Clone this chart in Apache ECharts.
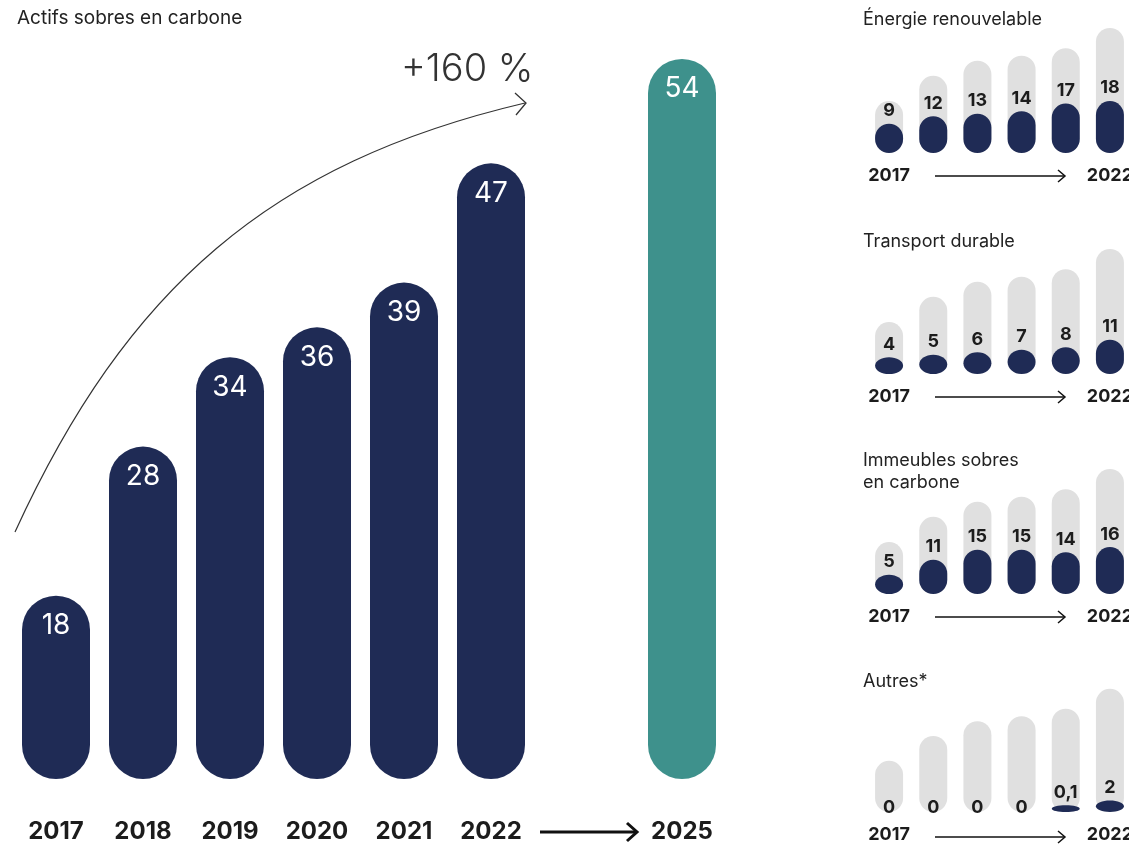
<!DOCTYPE html>
<html><head><meta charset="utf-8">
<script src="https://cdn.jsdelivr.net/npm/echarts@6/dist/echarts.min.js"></script>
<style>html,body{margin:0;padding:0;background:#fff;overflow:hidden}#c{width:1140px;height:844px}</style>
</head><body><div id="c"></div>
<script>
// ---- data ----
const years = ['2017','2018','2019','2020','2021','2022'];
const targetYear = ['2025'];
const totals = [18, 28, 34, 36, 39, 47];
const target = [54];
const energie = [9, 12, 13, 14, 17, 18];
const transport = [4, 5, 6, 7, 8, 11];
const immeubles = [5, 11, 15, 15, 14, 16];
const autres = [0, 0, 0, 0, 0.1, 2];
const panelTitles = ['Énergie renouvelable', 'Transport durable', 'Immeubles sobres\nen carbone', 'Autres*'];
const mainTitle = 'Actifs sobres en carbone';
const growthLabel = '+160 %';

// ---- styling ----
const NAVY = '#1f2b55', TEAL = '#3e918c', GREY = '#e0e0e0', INK = '#1c1c1c';
const FONT = 'Inter, "Noto Sans", sans-serif';
const panels = [energie, transport, immeubles, autres];
const panelBottoms = [153, 374, 594, 814];
const panelTitleTops = [9, 231, 450, 671];
const SMALL_MIN = -2.6, SMALL_MAX = 50, PH = 132.6, SW = 28;

const fmt = v => String(v).replace('.', ',');

// capsule drawn from the axis minimum up to the value, through the axis scale
function capsule(color, withLabel) {
  return function (params, api) {
    const idx = api.value(0), v = api.value(1);
    const base = api.coord([idx, SMALL_MIN]);
    const top = api.coord([idx, v]);
    const cx = base[0];
    const h = base[1] - top[1];
    const labelFont = 'bold 18px ' + FONT;
    if (withLabel && v === 0) {
      return {type: 'text', x: cx, y: base[1] - 4,
        style: {text: fmt(v), font: labelFont, fill: INK, textAlign: 'center', textVerticalAlign: 'middle', align: 'center', verticalAlign: 'middle'}};
    }
    let el;
    if (h >= SW) {
      el = {type: 'rect', shape: {x: cx - SW / 2, y: top[1], width: SW, height: h, r: SW / 2}, style: {fill: color}};
    } else {
      el = {type: 'ellipse', shape: {cx: cx, cy: base[1] - h / 2, rx: SW / 2, ry: h / 2}, style: {fill: color}};
    }
    if (withLabel) {
      el.textContent = {style: {text: fmt(v), font: labelFont, fill: INK}};
      el.textConfig = {position: 'top', distance: 4};
    }
    return el;
  };
}

const grid = [
  {left: 12.5, top: 59, width: 522, height: 720},
  {left: 638.5, top: 59, width: 87, height: 720}
];
const xAxis = [
  {type: 'category', gridIndex: 0, data: years},
  {type: 'category', gridIndex: 1, data: targetYear}
].map(a => Object.assign(a, {
  axisLine: {show: false}, axisTick: {show: false}, splitLine: {show: false},
  axisLabel: {fontFamily: FONT, fontWeight: 'bold', fontSize: 24, color: INK, margin: 41}
}));
const yAxis = [
  {type: 'value', gridIndex: 0, min: 5.7, max: 54, show: false},
  {type: 'value', gridIndex: 1, min: 5.7, max: 54, show: false}
];
const mainLabel = {show: true, position: 'insideTop', distance: 16, color: '#fff', fontSize: 28, fontFamily: FONT, fontWeight: 400};
const series = [
  {type: 'bar', xAxisIndex: 0, yAxisIndex: 0, data: totals, barWidth: 68,
   itemStyle: {color: NAVY, borderRadius: 34}, label: mainLabel, silent: true},
  {type: 'bar', xAxisIndex: 1, yAxisIndex: 1, data: target, barWidth: 68,
   itemStyle: {color: TEAL, borderRadius: 34}, label: mainLabel, silent: true}
];
const graphic = [];

graphic.push({type: 'text', left: 17, top: 9, style: {text: mainTitle, font: '400 19px ' + FONT, fill: '#222'}});
graphic.push({type: 'text', x: 401, y: 70, style: {text: growthLabel, font: '300 38px ' + FONT, fill: '#333', textVerticalAlign: 'middle', verticalAlign: 'middle'}});
graphic.push({type: 'bezierCurve', shape: {x1: 15, y1: 532, cpx1: 127, cpy1: 288, cpx2: 270, cpy2: 163, x2: 525, y2: 103},
  style: {stroke: '#333', lineWidth: 1.2, fill: null}});
graphic.push({type: 'polyline', shape: {points: [[515, 93], [526, 103], [516, 115]]}, style: {stroke: '#333', lineWidth: 1.3, fill: null}});
// main axis arrow
graphic.push({type: 'line', shape: {x1: 540, y1: 832, x2: 636, y2: 832}, style: {stroke: '#111', lineWidth: 3}});
graphic.push({type: 'polyline', shape: {points: [[627, 823], [637, 832], [627, 841]]}, style: {stroke: '#111', lineWidth: 3, fill: null}});

panels.forEach((vals, i) => {
  const gi = grid.length;
  const b = panelBottoms[i];
  grid.push({left: 867, top: b - PH, width: 265, height: PH});
  xAxis.push({type: 'category', gridIndex: gi, data: years,
    axisLine: {show: false}, axisTick: {show: false},
    axisLabel: {interval: 0, formatter: (v, idx) => (idx === 0 || idx === years.length - 1) ? v : '',
      fontFamily: FONT, fontWeight: 'bold', fontSize: 18, color: INK, margin: 14}});
  yAxis.push({type: 'value', gridIndex: gi, min: SMALL_MIN, max: SMALL_MAX, show: false});
  series.push({type: 'custom', xAxisIndex: gi, yAxisIndex: gi, silent: true, z: 1,
    data: totals.map((v, k) => [k, v]), encode: {x: 0, y: 1},
    renderItem: capsule(GREY, false)});
  series.push({type: 'custom', xAxisIndex: gi, yAxisIndex: gi, silent: true, z: 2,
    data: vals.map((v, k) => [k, v]), encode: {x: 0, y: 1},
    renderItem: capsule(NAVY, true)});
  graphic.push({type: 'text', left: 863, top: panelTitleTops[i],
    style: {text: panelTitles[i], font: '400 18px ' + FONT, fill: '#222', lineHeight: 22}});
  const ay = b + 23;
  graphic.push({type: 'line', shape: {x1: 935, y1: ay, x2: 1064, y2: ay}, style: {stroke: '#111', lineWidth: 1.5}});
  graphic.push({type: 'polyline', shape: {points: [[1058, ay - 6], [1065, ay], [1058, ay + 6]]}, style: {stroke: '#111', lineWidth: 1.5, fill: null}});
});

const chart = echarts.init(document.getElementById('c'), null, {renderer: 'canvas'});
chart.setOption({
  animation: false,
  backgroundColor: '#fff',
  textStyle: {fontFamily: FONT},
  grid, xAxis, yAxis, series, graphic
});
</script>
</body></html>
